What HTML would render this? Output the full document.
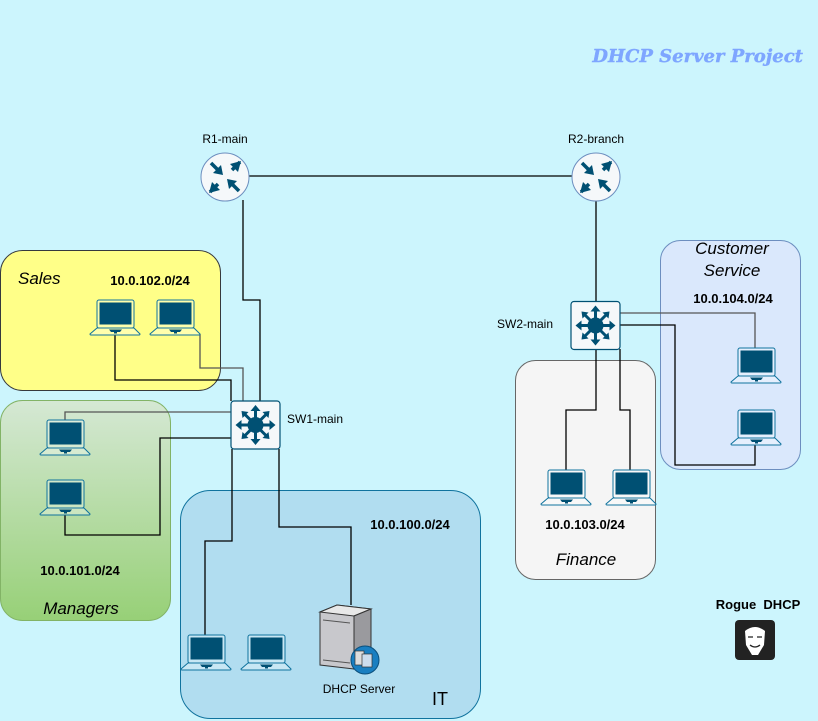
<!DOCTYPE html>
<html><head><meta charset="utf-8"><style>
html,body{margin:0;padding:0;background:#ccf5fd;}
svg{display:block;font-family:"Liberation Sans",sans-serif;}
.title{font-family:"DejaVu Serif","Liberation Serif",serif;font-weight:900;font-style:italic;font-size:18px;fill:#7ea6ff;stroke:#7ea6ff;stroke-width:0.4px;}
.rogue{font-family:"Liberation Sans",sans-serif;font-weight:bold;font-size:13px;}
</style></head><body>
<svg width="818" height="721" viewBox="0 0 818 721" xmlns="http://www.w3.org/2000/svg">
<defs>
<linearGradient id="mg" x1="0" y1="0" x2="0" y2="1"><stop offset="0" stop-color="#d5e8d4"/><stop offset="1" stop-color="#97d077"/></linearGradient>
<g id="lap">
<rect x="7" y="0" width="37" height="28" rx="2" fill="#fff" fill-opacity="0.3" stroke="#10739e" stroke-width="1"/>
<rect x="9.5" y="2.5" width="32" height="22" fill="#005073"/>
<path d="M7 28 L44 28 L50 34 Q50 35 49 35 L1 35 Q0 35 0 34 Z" fill="#fff" fill-opacity="0.3" stroke="#10739e" stroke-width="1"/>
<path d="M19 29.5 L32 29.5 L30 32 L27 32 L27 33.5 L24 33.5 L24 32 L21 32 Z" fill="#005073"/>
</g>
<g id="rt">
<circle cx="0" cy="0" r="24" fill="#f5f8fa" stroke="#6c8ebf" stroke-width="1"/>
<g fill="none" stroke="#005073" stroke-width="3.5">
<path d="M-14 -14 L-5 -5"/><path d="M15 -15 L7 -7"/><path d="M-15 15 L-7 7"/><path d="M14 14 L5 5"/>
</g>
<g fill="#005073">
<path d="M-2 -2 L-12 -4 L-4 -12 Z"/><path d="M16 -16 L5 -13 L13 -5 Z"/><path d="M-16 16 L-13 5 L-5 13 Z"/><path d="M2 2 L12 4 L4 12 Z"/>
</g>
</g>
<g id="sw">
<rect x="-24.5" y="-24" width="49" height="48" rx="3" fill="#f5f8fa" stroke="#005073" stroke-width="1.2"/>
<circle r="8" fill="#005073"/>
<g stroke="#005073" stroke-width="3">
<path d="M0 -16 L0 16 M-16 0 L16 0 M-11 -11 L11 11 M-11 11 L11 -11"/>
</g>
<g fill="#005073">
<path d="M0 -20 L-5 -14 L5 -14Z"/><path d="M0 20 L-5 14 L5 14Z"/><path d="M-20 0 L-14 -5 L-14 5Z"/><path d="M20 0 L14 -5 L14 5Z"/>
<path d="M-14 -14 L-13 -7 L-7 -13Z"/><path d="M14 14 L13 7 L7 13Z"/><path d="M14 -14 L7 -13 L13 -7Z"/><path d="M-14 14 L-7 13 L-13 7Z"/>
</g>
</g>
</defs>

<text x="803" y="62" text-anchor="end" class="title">DHCP Server Project</text>

<rect x="0.5" y="250.5" width="220" height="140" rx="22" fill="#ffff88" stroke="#36393d"/>
<rect x="0.5" y="400.5" width="170" height="220" rx="22" fill="url(#mg)" stroke="#82b366"/>
<rect x="180.5" y="490.5" width="300" height="228" rx="30" fill="#b1ddf0" stroke="#10739e"/>
<rect x="515.5" y="360.5" width="140" height="219" rx="20" fill="#f5f5f5" stroke="#666"/>
<rect x="660.5" y="240.5" width="140" height="229" rx="20" fill="#dae8fc" stroke="#6c8ebf"/>

<g fill="none" stroke-width="1.3">
<path d="M249 176 L572 176" stroke="#000"/>
<path d="M243 200 L243 300 L260 300 L260 401" stroke="#000"/>
<path d="M596 201 L596 302" stroke="#000"/>
<path d="M115 335 L115 380 L231 380 L231 401" stroke="#000"/>
<path d="M200 334 L200 368 L243 368 L243 401" stroke="#555"/>
<path d="M65 420 L65 412 L231 412" stroke="#555"/>
<path d="M65 515 L65 535 L160 535 L160 438 L231 438" stroke="#000"/>
<path d="M232 449 L232 541 L205 541 L205 635" stroke="#000"/>
<path d="M279 449 L279 527 L351 527 L351 605" stroke="#000"/>
<path d="M620 313 L755 313 L755 348" stroke="#555"/>
<path d="M620 325 L675 325 L675 465 L755 465 L755 445" stroke="#000"/>
<path d="M596 349 L596 410 L566 410 L566 470" stroke="#000"/>
<path d="M620 349 L620 410 L630 410 L630 470" stroke="#000"/>
</g>

<use href="#rt" x="225" y="177"/>
<use href="#rt" x="596" y="177"/>
<use href="#sw" x="255.5" y="425"/>
<use href="#sw" x="595.5" y="325.5"/>

<use href="#lap" x="90" y="300"/>
<use href="#lap" x="150" y="300"/>
<use href="#lap" x="40" y="420"/>
<use href="#lap" x="40" y="480"/>
<use href="#lap" x="181" y="635"/>
<use href="#lap" x="241" y="635"/>
<use href="#lap" x="541" y="470"/>
<use href="#lap" x="606" y="470"/>
<use href="#lap" x="731" y="348"/>
<use href="#lap" x="731" y="410"/>

<g>
<path d="M320 612 L337 605 L371 609 L371 662 L354 669 L320 665 Z" fill="#c8c8cc" stroke="#333"/>
<path d="M320 612 L337 605 L371 609 L354 616 Z" fill="#e8e8e8" stroke="#333"/>
<path d="M354 616 L371 609 L371 662 L354 669 Z" fill="#9a9a9e" stroke="#333"/>
<path d="M320 612 L320 665" stroke="#333"/>
<path d="M323 620 L350 623 M323 660 L350 663" stroke="#555"/>
<circle cx="365" cy="660" r="14" fill="#1a7fc1" stroke="#0b4f7c"/>
<rect x="355" y="651" width="9" height="14" fill="#ddd" stroke="#333" stroke-width="0.7"/>
<rect x="362" y="654" width="10" height="13" fill="#cde" stroke="#333" stroke-width="0.7"/>
</g>

<rect x="735" y="620" width="40" height="40" rx="4" fill="#222"/>
<path d="M745 631 Q755 623 765 631 L764 645 L758 655 L752 655 L746 645 Z" fill="#fff"/>
<path d="M748 637 L753 637 M757 637 L762 637 M750 645 Q755 649 760 645" stroke="#222" stroke-width="1.3" fill="none"/>

<g font-size="12" fill="#000">
<text x="225" y="143" text-anchor="middle">R1-main</text>
<text x="596" y="143" text-anchor="middle">R2-branch</text>
<text x="287" y="423">SW1-main</text>
<text x="497" y="328">SW2-main</text>
<text x="359" y="693" text-anchor="middle">DHCP Server</text>
</g>
<g font-size="13" font-weight="bold" fill="#000">
<text x="150" y="285" text-anchor="middle">10.0.102.0/24</text>
<text x="80" y="575" text-anchor="middle">10.0.101.0/24</text>
<text x="410" y="529" text-anchor="middle">10.0.100.0/24</text>
<text x="585" y="529" text-anchor="middle">10.0.103.0/24</text>
<text x="733" y="303" text-anchor="middle">10.0.104.0/24</text>
</g>
<text x="758" y="609" text-anchor="middle" class="rogue" xml:space="preserve">Rogue  DHCP</text>
<g font-size="17" font-style="italic" fill="#000">
<text x="18" y="284">Sales</text>
<text x="81" y="614" text-anchor="middle">Managers</text>
<text x="586" y="565" text-anchor="middle">Finance</text>
<text x="732" y="254" text-anchor="middle">Customer</text>
<text x="732" y="276" text-anchor="middle">Service</text>
</g>
<text x="440" y="705" text-anchor="middle" font-size="18" fill="#000">IT</text>
</svg>
</body></html>
